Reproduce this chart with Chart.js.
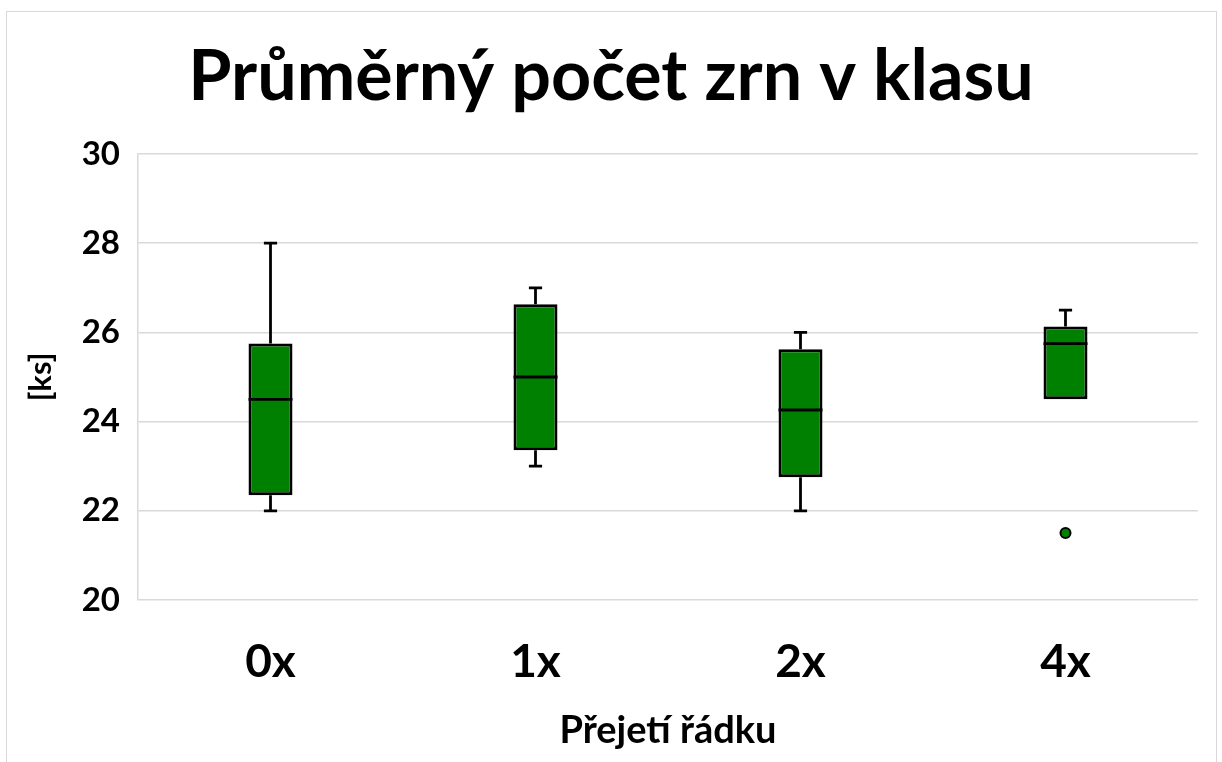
<!DOCTYPE html>
<html>
<head>
<meta charset="utf-8">
<script src="https://cdn.jsdelivr.net/npm/chart.js@4.4.1/dist/chart.umd.min.js"></script>
<style>
  html, body { margin: 0; padding: 0; background: #fff; }
  #wrap { position: relative; width: 1222px; height: 762px; overflow: hidden; }
  #frame { position: absolute; left: 6px; top: 11px; width: 1209px; height: 800px; border: 1px solid #d9d9d9; }
  #chart { position: absolute; left: 0; top: 0; }
</style>
</head>
<body>
<div id="wrap">
  <div id="frame"></div>
  <canvas id="chart" width="1222" height="762"></canvas>
</div>
<script>
// ── BOX PLOT DATA ──
const categories  = ['0x', '1x', '2x', '4x'];
const whiskerLow  = [22, 23, 22, 24.5];
const q1          = [22.35, 23.36, 22.75, 24.5];
const median      = [24.5, 25, 24.26, 25.75];
const q3          = [25.75, 26.63, 25.62, 26.13];
const whiskerHigh = [28, 27, 26, 26.5];
const outliers    = [null, null, null, 21.5];

const FONT = 'Lato';

// whiskers under the boxes, median on top of them
const boxPlotPlugin = {
  id: 'boxPlot',
  beforeDatasetsDraw(chart) {
    const { ctx } = chart;
    const y = chart.scales.y;
    const meta = chart.getDatasetMeta(1);
    ctx.save();
    ctx.strokeStyle = '#000';
    ctx.lineWidth = 2.8;
    ctx.beginPath();
    meta.data.forEach((bar, i) => {
      const cx = bar.x;
      const cap = bar.width * 0.3;
      if (whiskerHigh[i] > q3[i]) {
        const top = y.getPixelForValue(whiskerHigh[i]);
        ctx.moveTo(cx, y.getPixelForValue(q3[i]));
        ctx.lineTo(cx, top);
        ctx.moveTo(cx - cap / 2, top);
        ctx.lineTo(cx + cap / 2, top);
      }
      if (whiskerLow[i] < q1[i]) {
        const bot = y.getPixelForValue(whiskerLow[i]);
        ctx.moveTo(cx, y.getPixelForValue(q1[i]));
        ctx.lineTo(cx, bot);
        ctx.moveTo(cx - cap / 2, bot);
        ctx.lineTo(cx + cap / 2, bot);
      }
    });
    ctx.stroke();
    ctx.restore();
  },
  afterDatasetDraw(chart, args) {
    if (args.index !== 1) return;
    const { ctx } = chart;
    const y = chart.scales.y;
    ctx.save();
    ctx.strokeStyle = '#000';
    ctx.lineWidth = 2.8;
    ctx.beginPath();
    args.meta.data.forEach((bar, i) => {
      const my = y.getPixelForValue(median[i]);
      ctx.moveTo(bar.x - bar.width / 2, my);
      ctx.lineTo(bar.x + bar.width / 2, my);
    });
    ctx.stroke();
    ctx.restore();
  }
};

new Chart(document.getElementById('chart').getContext('2d'), {
  data: {
    labels: categories,
    datasets: [
      {
        type: 'line', label: 'Odlehlé hodnoty', data: outliers,
        showLine: false, pointRadius: 5, pointBackgroundColor: '#008000',
        pointBorderColor: '#000', pointBorderWidth: 2
      },
      {
        type: 'bar', label: 'Box', data: categories.map((c, i) => [q1[i], q3[i]]),
        backgroundColor: '#008000', borderColor: '#000', borderWidth: 3,
        borderSkipped: false, barPercentage: 0.166, categoryPercentage: 1
      }
    ]
  },
  options: {
    responsive: false, animation: false,
    layout: { padding: 0 },
    plugins: {
      legend: { display: false },
      tooltip: { enabled: false },
      title: {
        display: true, text: 'Průměrný počet zrn v klasu', color: '#000',
        font: { family: FONT, size: 70, weight: 'bold' },
        padding: { top: 35, bottom: 35 }
      }
    },
    scales: {
      x: {
        grid: { display: false }, border: { display: false },
        ticks: { color: '#000', padding: 27, font: { family: FONT, size: 46, weight: 'bold' } },
        title: {
          display: true, text: 'Přejetí řádku', color: '#000',
          font: { family: FONT, size: 38, weight: 'bold' }, padding: { top: 0, bottom: 8 }
        },
        afterFit(s) { s.height = 162; }
      },
      y: {
        min: 20, max: 30,
        ticks: { stepSize: 2, color: '#000', padding: 18, font: { family: FONT, size: 33, weight: 'bold' } },
        grid: { color: '#d9d9d9', lineWidth: 1.5, drawTicks: false },
        border: { display: true, color: '#d9d9d9', width: 1.5 },
        title: {
          display: true, text: '[ks]', color: '#000',
          font: { family: FONT, size: 31, weight: 'bold' }, padding: { top: 22, bottom: 0 }
        },
        afterFit(s) { s.width = 138; }
      },
      // empty right margin so the title stays centred on the whole canvas
      yRight: {
        position: 'right', min: 20, max: 30,
        ticks: { display: false }, grid: { display: false }, border: { display: false },
        afterFit(s) { s.width = 24; }
      }
    }
  },
  plugins: [boxPlotPlugin]
});
</script>
</body>
</html>
